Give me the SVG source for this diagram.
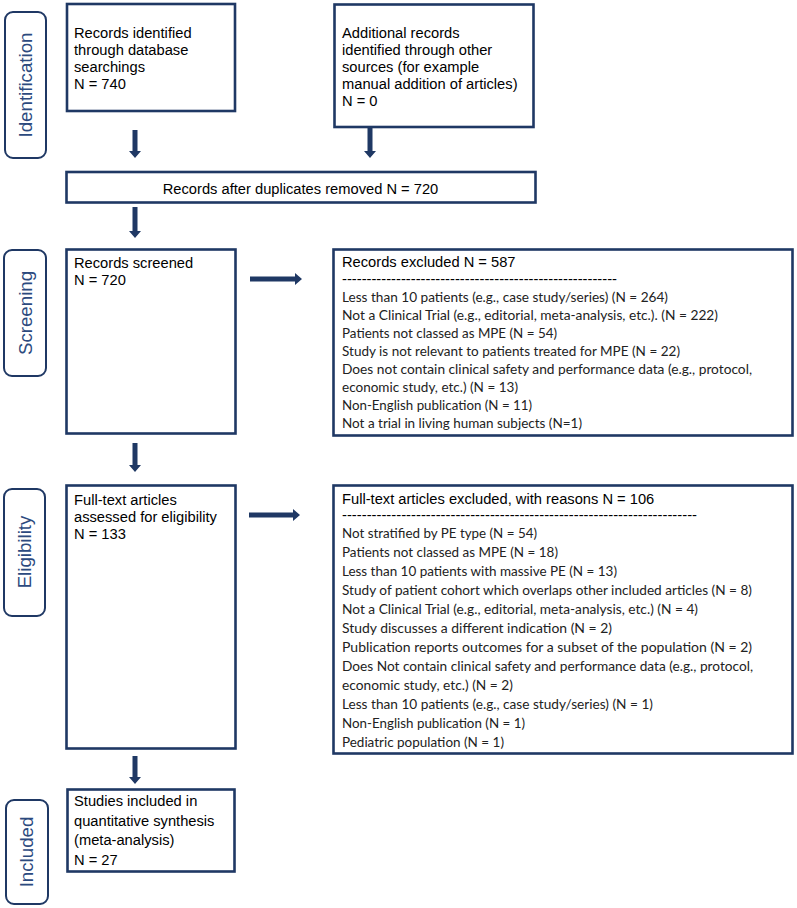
<svg xmlns="http://www.w3.org/2000/svg" width="797" height="908" viewBox="0 0 797 908">
<style>
.box{fill:#fff;stroke:#1f3864;stroke-width:2.6}
.pill{fill:#fff;stroke:#1f3864;stroke-width:2}
.t{font-family:"Liberation Sans",Arial,sans-serif;font-size:14.7px;fill:#000}
.i{font-family:Lato,"Liberation Sans",sans-serif;font-size:13.6px;fill:#222}
.p{font-family:"Liberation Sans",Arial,sans-serif;font-size:18.7px;fill:#2c4a7e;text-anchor:middle}
.arr{fill:#1f3864}
</style>
<rect width="797" height="908" fill="#fff"/>
<g id="stage-identification"><rect class="pill" x="5" y="12" width="41" height="146" rx="8"/><text class="p" transform="translate(32,85) rotate(-90)">Identification</text></g>
<g id="stage-screening"><rect class="pill" x="4" y="250" width="42" height="126" rx="8"/><text class="p" transform="translate(32,313) rotate(-90)">Screening</text></g>
<g id="stage-eligibility"><rect class="pill" x="4" y="489" width="41" height="127" rx="8"/><text class="p" transform="translate(31,552) rotate(-90)">Eligibility</text></g>
<g id="stage-included"><rect class="pill" x="6" y="800" width="42" height="104" rx="8"/><text class="p" transform="translate(33,852) rotate(-90)">Included</text></g>

<g id="db-records"><rect class="box" x="67" y="4" width="168" height="107"/>
<text class="t" x="74" y="37.5">Records identified</text>
<text class="t" x="74" y="54.5">through database</text>
<text class="t" x="74" y="71.5">searchings</text>
<text class="t" x="74" y="88.5">N = 740</text></g>

<g id="other-records"><rect class="box" x="334.5" y="4.5" width="199" height="122.5"/>
<text class="t" x="342" y="37.5">Additional records</text>
<text class="t" x="342" y="54.5">identified through other</text>
<text class="t" x="342" y="71.5">sources (for example</text>
<text class="t" x="342" y="88.5">manual addition of articles)</text>
<text class="t" x="342" y="105.5">N = 0</text></g>

<g id="dedup"><rect class="box" x="66.5" y="172" width="469" height="30.5"/>
<text class="t" x="300.5" y="193.5" text-anchor="middle">Records after duplicates removed N = 720</text></g>

<g id="screened"><rect class="box" x="66.5" y="249.5" width="169" height="184"/>
<text class="t" x="74" y="267.5">Records screened</text>
<text class="t" x="74" y="284.5">N = 720</text></g>

<g id="excluded-screening"><rect class="box" x="333.5" y="249.5" width="459" height="186"/>
<text class="t" x="342" y="267">Records excluded N = 587</text>
<text class="t" x="342" y="284" textLength="275" lengthAdjust="spacingAndGlyphs">--------------------------------------------------------</text>
<text class="i" x="342" y="302" textLength="326" lengthAdjust="spacingAndGlyphs">Less than 10 patients (e.g., case study/series) (N = 264)</text>
<text class="i" x="342" y="320" textLength="376" lengthAdjust="spacingAndGlyphs">Not a Clinical Trial (e.g., editorial, meta-analysis, etc.). (N = 222)</text>
<text class="i" x="342" y="338" textLength="215" lengthAdjust="spacingAndGlyphs">Patients not classed as MPE (N = 54)</text>
<text class="i" x="342" y="356" textLength="338" lengthAdjust="spacingAndGlyphs">Study is not relevant to patients treated for MPE (N = 22)</text>
<text class="i" x="342" y="374" textLength="410" lengthAdjust="spacingAndGlyphs">Does not contain clinical safety and performance data (e.g., protocol,</text>
<text class="i" x="342" y="392" textLength="176" lengthAdjust="spacingAndGlyphs">economic study, etc.) (N = 13)</text>
<text class="i" x="342" y="410" textLength="190" lengthAdjust="spacingAndGlyphs">Non-English publication (N = 11)</text>
<text class="i" x="342" y="428" textLength="240" lengthAdjust="spacingAndGlyphs">Not a trial in living human subjects (N=1)</text></g>

<g id="fulltext"><rect class="box" x="66.5" y="485.5" width="169" height="263"/>
<text class="t" x="74" y="504.5">Full-text articles</text>
<text class="t" x="74" y="521.5">assessed for eligibility</text>
<text class="t" x="74" y="538.5">N = 133</text></g>

<g id="excluded-fulltext"><rect class="box" x="333.5" y="485.5" width="459" height="268"/>
<text class="t" x="342" y="504">Full-text articles excluded, with reasons N = 106</text>
<text class="t" x="342" y="520" textLength="355" lengthAdjust="spacingAndGlyphs">------------------------------------------------------------------------</text>
<text class="i" x="342" y="538" textLength="195" lengthAdjust="spacingAndGlyphs">Not stratified by PE type (N = 54)</text>
<text class="i" x="342" y="557" textLength="216" lengthAdjust="spacingAndGlyphs">Patients not classed as MPE (N = 18)</text>
<text class="i" x="342" y="576" textLength="275" lengthAdjust="spacingAndGlyphs">Less than 10 patients with massive PE (N = 13)</text>
<text class="i" x="342" y="595" textLength="410" lengthAdjust="spacingAndGlyphs">Study of patient cohort which overlaps other included articles (N = 8)</text>
<text class="i" x="342" y="614" textLength="356" lengthAdjust="spacingAndGlyphs">Not a Clinical Trial (e.g., editorial, meta-analysis, etc.) (N = 4)</text>
<text class="i" x="342" y="633" textLength="270" lengthAdjust="spacingAndGlyphs">Study discusses a different indication (N = 2)</text>
<text class="i" x="342" y="652" textLength="410" lengthAdjust="spacingAndGlyphs">Publication reports outcomes for a subset of the population (N = 2)</text>
<text class="i" x="342" y="671" textLength="411" lengthAdjust="spacingAndGlyphs">Does Not contain clinical safety and performance data (e.g., protocol,</text>
<text class="i" x="342" y="690" textLength="171" lengthAdjust="spacingAndGlyphs">economic study, etc.) (N = 2)</text>
<text class="i" x="342" y="709" textLength="311" lengthAdjust="spacingAndGlyphs">Less than 10 patients (e.g., case study/series) (N = 1)</text>
<text class="i" x="342" y="728" textLength="183" lengthAdjust="spacingAndGlyphs">Non-English publication (N = 1)</text>
<text class="i" x="342" y="747" textLength="162" lengthAdjust="spacingAndGlyphs">Pediatric population (N = 1)</text></g>

<g id="included"><rect class="box" x="67.5" y="789.5" width="167" height="82"/>
<text class="t" x="74" y="806">Studies included in</text>
<text class="t" x="74" y="825.5">quantitative synthesis</text>
<text class="t" x="74" y="845">(meta-analysis)</text>
<text class="t" x="74" y="864.5">N = 27</text></g>

<g id="connectors">
<path class="arr" d="M132.5,130 h5 v21 h3.5 l-6,7 l-6,-7 h3.5 z"/>
<path class="arr" d="M367.5,128 h5 v23 h3.5 l-6,7 l-6,-7 h3.5 z"/>
<path class="arr" d="M132.5,207 h5 v24 h3.5 l-6,7 l-6,-7 h3.5 z"/>
<path class="arr" d="M132.5,443 h5 v22 h3.5 l-6,7 l-6,-7 h3.5 z"/>
<path class="arr" d="M132.5,756 h5 v21 h3.5 l-6,7 l-6,-7 h3.5 z"/>
<path class="arr" d="M250,276.5 v5 h45 v3.5 l7,-6 l-7,-6 v3.5 z"/>
<path class="arr" d="M249,512.5 v5 h44 v3.5 l7,-6 l-7,-6 v3.5 z"/>
</g>
</svg>
